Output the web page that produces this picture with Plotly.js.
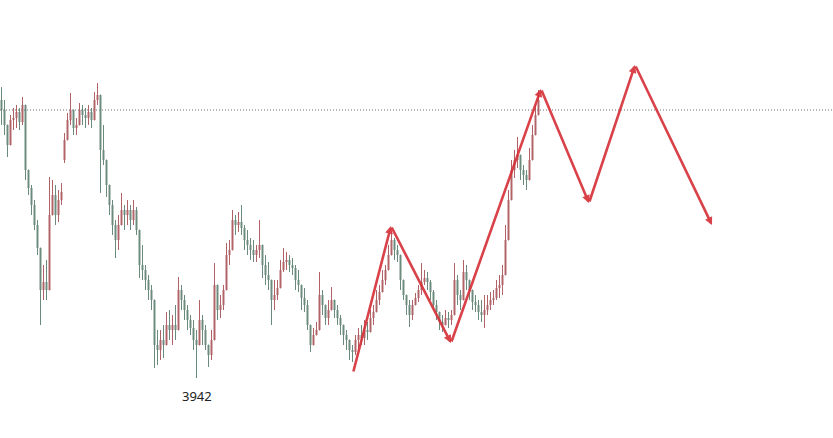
<!DOCTYPE html>
<html>
<head>
<meta charset="utf-8">
<script src="https://cdn.plot.ly/plotly-3.0.1.min.js"></script>
<style>
html,body{margin:0;padding:0;background:#fff;}
#chart{width:833px;height:438px;}
</style>
</head>
<body>
<div id="chart"></div>
<script>
// Candle OHLC values (index points)
const openP = [
4220,4210,4195,4175,4200,4202,4208,4198,4215,4150,
4132,4115,4095,4072,4030,4038,4030,4105,4125,4105,
4120,4160,4180,4200,4210,4192,4195,4210,4205,4202,
4208,4200,4220,4225,4170,4160,4135,4115,4095,4080,
4095,4110,4105,4110,4100,4110,4090,4055,4050,4040,
4030,4020,3975,3970,3980,3975,3995,3990,3995,3990,
4030,4020,4010,4000,3992,3980,3975,4000,3990,3975,
3965,3980,4035,4010,4015,4030,4065,4070,4100,4095,
4098,4092,4080,4075,4070,4065,4070,4075,4055,4045,
4040,4020,4025,4032,4050,4058,4060,4055,4052,4040,
4035,4022,4015,3995,3975,3985,3990,4025,4015,4002,
4010,4020,4010,4002,3995,3985,3980,3970,3968,3980,
3985,3982,3990,3988,4002,4008,4020,4028,4040,4050,
4065,4080,4070,4065,4040,4025,4015,4005,4015,4022,
4030,4038,4042,4038,4028,4015,4008,3998,3995,4002,
4000,4005,4040,4025,4020,4048,4040,4030,4018,4015,
4008,4005,4010,4015,4020,4022,4032,4035,4045,4080,
4120,4150,4160,4165,4150,4145,4140,4160,4185,4205];
const closeP = [
4210,4195,4175,4200,4202,4208,4198,4215,4150,4132,
4115,4095,4072,4030,4038,4030,4105,4125,4105,4120,
4128,4180,4200,4210,4192,4195,4210,4205,4202,4208,
4200,4220,4225,4170,4160,4135,4115,4095,4080,4095,
4110,4105,4110,4100,4110,4090,4055,4050,4040,4030,
4020,3975,3970,3980,3975,3995,3990,3995,3990,4030,
4020,4010,4000,3992,3980,3975,4000,3990,3975,3965,
3980,4035,4010,4015,4030,4065,4070,4100,4095,4098,
4092,4080,4075,4070,4065,4070,4075,4055,4045,4040,
4020,4025,4032,4050,4058,4060,4055,4052,4040,4035,
4022,4015,3995,3975,3985,3990,4025,4015,4002,4010,
4020,4010,4002,3995,3985,3980,3970,3968,3980,3985,
3982,3990,3988,4002,4008,4020,4028,4040,4050,4065,
4080,4070,4065,4040,4025,4015,4005,4015,4022,4030,
4038,4042,4038,4028,4015,4008,3998,3995,4002,4000,
4005,4040,4025,4020,4048,4040,4030,4018,4015,4008,
4005,4010,4015,4020,4022,4032,4035,4045,4080,4120,
4150,4160,4165,4150,4145,4140,4160,4185,4205,4220];
const highP = [
4233,4220,4195,4205,4212,4215,4212,4223,4215,4150,
4135,4120,4100,4072,4055,4060,4143,4140,4135,4130,
4137,4187,4207,4227,4210,4202,4217,4215,4212,4215,
4212,4228,4237,4225,4195,4160,4135,4120,4100,4105,
4127,4115,4120,4115,4120,4113,4090,4075,4055,4045,
4035,4020,3990,3990,3995,4008,4010,4005,4015,4043,
4035,4025,4015,4005,4000,3990,4020,4005,3995,3975,
3990,4057,4035,4025,4035,4077,4080,4110,4105,4108,
4115,4095,4090,4082,4080,4075,4100,4075,4065,4058,
4040,4040,4040,4060,4072,4068,4065,4062,4055,4050,
4035,4032,4020,3995,3992,3998,4048,4030,4015,4020,
4033,4020,4015,4005,3995,3990,3980,3975,3985,3992,
3995,4000,3998,4010,4015,4030,4035,4050,4055,4075,
4087,4082,4075,4065,4040,4025,4020,4020,4027,4035,
4057,4050,4048,4040,4030,4020,4008,4005,4010,4008,
4010,4057,4045,4030,4060,4055,4040,4030,4025,4020,
4020,4025,4025,4028,4030,4040,4045,4055,4095,4130,
4160,4170,4183,4165,4155,4150,4172,4195,4215,4230];
const lowP = [
4195,4185,4163,4175,4190,4192,4190,4195,4140,4125,
4105,4090,4065,3995,4020,4020,4030,4105,4095,4098,
4115,4157,4180,4195,4185,4185,4195,4195,4192,4195,
4192,4200,4215,4127,4155,4123,4105,4085,4062,4070,
4095,4090,4095,4090,4095,4085,4042,4040,4030,4020,
4010,3952,3955,3960,3962,3975,3980,3975,3980,3990,
4010,4000,3990,3985,3970,3942,3975,3975,3970,3953,
3960,3980,4000,4002,4010,4030,4055,4070,4085,4088,
4085,4070,4065,4060,4058,4058,4062,4042,4035,4030,
3995,4010,4020,4032,4048,4050,4048,4045,4030,4028,
4010,4008,3990,3968,3975,3985,3990,4005,3995,3995,
4010,4002,3995,3985,3975,3970,3960,3958,3965,3970,
3975,3975,3980,3988,3995,4008,4015,4028,4035,4050,
4065,4060,4058,4030,4020,4005,3993,4000,4015,4018,
4025,4035,4030,4020,4010,4000,3990,3988,3995,3992,
3995,4005,4015,4010,4020,4030,4020,4010,4008,4000,
3998,3992,4005,4010,4015,4020,4022,4025,4045,4080,
4120,4142,4152,4140,4135,4130,4140,4160,4185,4205];

// Hand-drawn wave projection (bar index, price)
const waveX = [117.17, 129.83, 149.83, 179.83, 195.83, 211.17, 236.83];
const waveY = [3947, 4094, 3977, 4231, 4117, 4255, 4095];

// Reference level and low label
const refLevel = 4210;
const lowLabel = "3942";
const lowIndex = 65;
const lowValue = 3942;

const xIdx = openP.map((_, i) => i);

const trace = {
  type: 'candlestick',
  x: xIdx,
  open: openP, high: highP, low: lowP, close: closeP,
  increasing: {line: {color: '#b06266', width: 1}, fillcolor: '#b06266'},
  decreasing: {line: {color: '#6a8a7c', width: 1}, fillcolor: '#6a8a7c'},
  whiskerwidth: 0,
  hoverinfo: 'none',
  showlegend: false
};

const annotations = [];
for (let i = 0; i < waveX.length - 1; i++) {
  annotations.push({
    x: waveX[i + 1], y: waveY[i + 1],
    ax: waveX[i], ay: waveY[i],
    xref: 'x', yref: 'y', axref: 'x', ayref: 'y',
    showarrow: true, arrowhead: 2, arrowsize: 0.6, arrowwidth: 2.6,
    arrowcolor: 'rgba(214,50,58,0.92)', text: '', standoff: 0, startstandoff: 0
  });
}
annotations.push({
  x: lowIndex, y: lowValue, xref: 'x', yref: 'y',
  text: lowLabel, showarrow: false, yshift: -18,
  font: {family: 'Noto Sans, DejaVu Sans, sans-serif', size: 13, color: '#222'}
});

const layout = {
  width: 833, height: 438,
  margin: {l: 0, r: 0, t: 0, b: 0},
  paper_bgcolor: '#ffffff', plot_bgcolor: '#ffffff',
  boxgap: 0.55,
  xaxis: {range: [-0.5, 277.1667], visible: false, rangeslider: {visible: false}, fixedrange: true},
  yaxis: {range: [3882, 4320], visible: false, fixedrange: true},
  shapes: [{
    type: 'line', xref: 'paper', x0: 0, x1: 1, yref: 'y', y0: refLevel, y1: refLevel,
    line: {color: '#6e6e6e', width: 1, dash: '1px,2px'}, layer: 'below'
  }],
  annotations: annotations,
  showlegend: false
};

Plotly.newPlot('chart', [trace], layout, {staticPlot: true, displayModeBar: false});
</script>
</body>
</html>
